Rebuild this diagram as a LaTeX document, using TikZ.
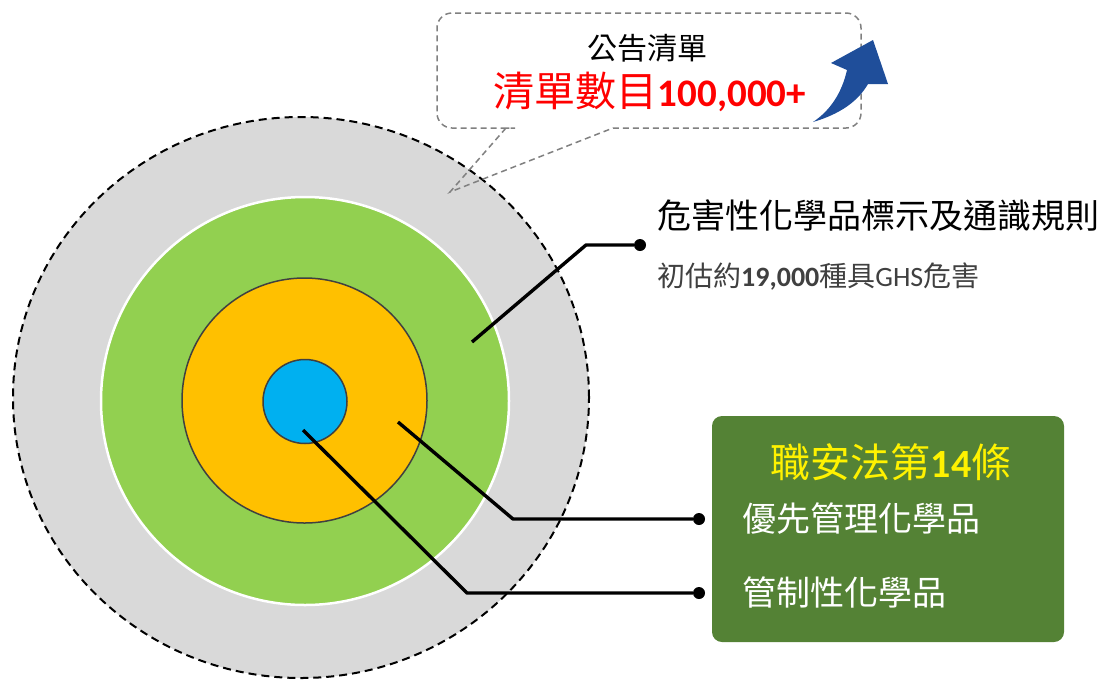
\documentclass[tikz,border=0pt]{standalone}
\usepackage{fontspec}
\setmainfont{Carlito}
\newfontfamily\cjk{Noto Sans CJK TC}
\usetikzlibrary{shapes,positioning}
\definecolor{listgray}{HTML}{D9D9D9}
\definecolor{ghsgreen}{HTML}{92D050}
\definecolor{prioorange}{HTML}{FFC000}
\definecolor{ctrlblue}{HTML}{00B0F0}
\definecolor{lawgreen}{HTML}{548235}
\definecolor{upblue}{HTML}{1F4E9A}
\definecolor{rimgray}{HTML}{404040}

\begin{document}
\begin{tikzpicture}[x=1pt, y=-1pt, every node/.style={inner sep=0pt},
  ring/.style={circle, minimum size=#1},
  leader/.style={line width=3.4pt, line join=round},
  dot/.style={circle, fill=black, minimum size=12pt}]
\useasboundingbox (0,0) rectangle (1105,681);

% rings
\node[ellipse, fill=listgray, draw=black, line width=2pt, dash pattern=on 8pt off 5pt, minimum width=576pt, minimum height=561pt] (list) at (301,397.5) {};
\node[ring=408pt, fill=ghsgreen, draw=white, line width=2.5pt] (ghs) at (305,401) {};
\node[ring=245pt, fill=prioorange, draw=rimgray, line width=1.5pt] (prio) at (304.5,400.5) {};
\node[ring=84pt, fill=ctrlblue, draw=rimgray, line width=1.5pt] (ctrl) at (305,401.5) {};

% callout
\draw[gray, line width=1.5pt, dash pattern=on 6pt off 4pt] (506,128) -- (450,192) -- (613,128) [rounded corners=15pt] -- (861,128) -- (861,13) -- (437,13) -- (437,128) -- (500,128) [sharp corners] -- (506,128);
\node (pub) at (647,48) {\fontsize{30}{34}\selectfont\cjk 公告清單};
\node[text=red] (count) at (650,92) {\fontsize{41}{44}\selectfont{\cjk 清單數目}{\fontsize{39}{44}\selectfont\bfseries 100,000+}};
\fill[upblue] (813,122) .. controls (847,112) and (861,96) .. (868,84) -- (888,84) -- (873,40) -- (831,63) -- (847,70) .. controls (842,92) and (831,110) .. (813,122) -- cycle;

% ghs label
\node[anchor=west] (ghsname) at (657,216) {\fontsize{34}{38}\selectfont\cjk 危害性化學品標示及通識規則};
\node[anchor=west, text=rimgray] (ghsnum) at (657,277) {\fontsize{28}{30}\selectfont{\cjk 初估約}\textbf{19,000}{\cjk 種具}GHS{\cjk 危害}};

% law box
\node[fill=lawgreen, rounded corners=10pt, minimum width=352pt, minimum height=226pt] (law) at (888,529) {};
\node[text=yellow] (lawname) at (891,462) {\fontsize{40}{44}\selectfont{\cjk 職安法第}\textbf{14}{\cjk 條}};
\node[anchor=west, text=white] (prioname) at (742,519) {\fontsize{34}{38}\selectfont\cjk 優先管理化學品};
\node[anchor=west, text=white] (ctrlname) at (742,592) {\fontsize{34}{38}\selectfont\cjk 管制性化學品};

% leaders
\coordinate (s1) at (472,342);
\coordinate (e1) at (586,245);
\node[dot] (d1) at (640,245) {};
\coordinate (s2) at (398,422);
\coordinate (e2) at (513,519);
\node[dot] (d2) at (699,519) {};
\coordinate (s3) at (303,430);
\coordinate (e3) at (467,593);
\node[dot] (d3) at (699,593) {};
\draw[leader] (s1) -- (e1) -- (d1);
\draw[leader] (s2) -- (e2) -- (d2);
\draw[leader] (s3) -- (e3) -- (d3);
\end{tikzpicture}
\end{document}
